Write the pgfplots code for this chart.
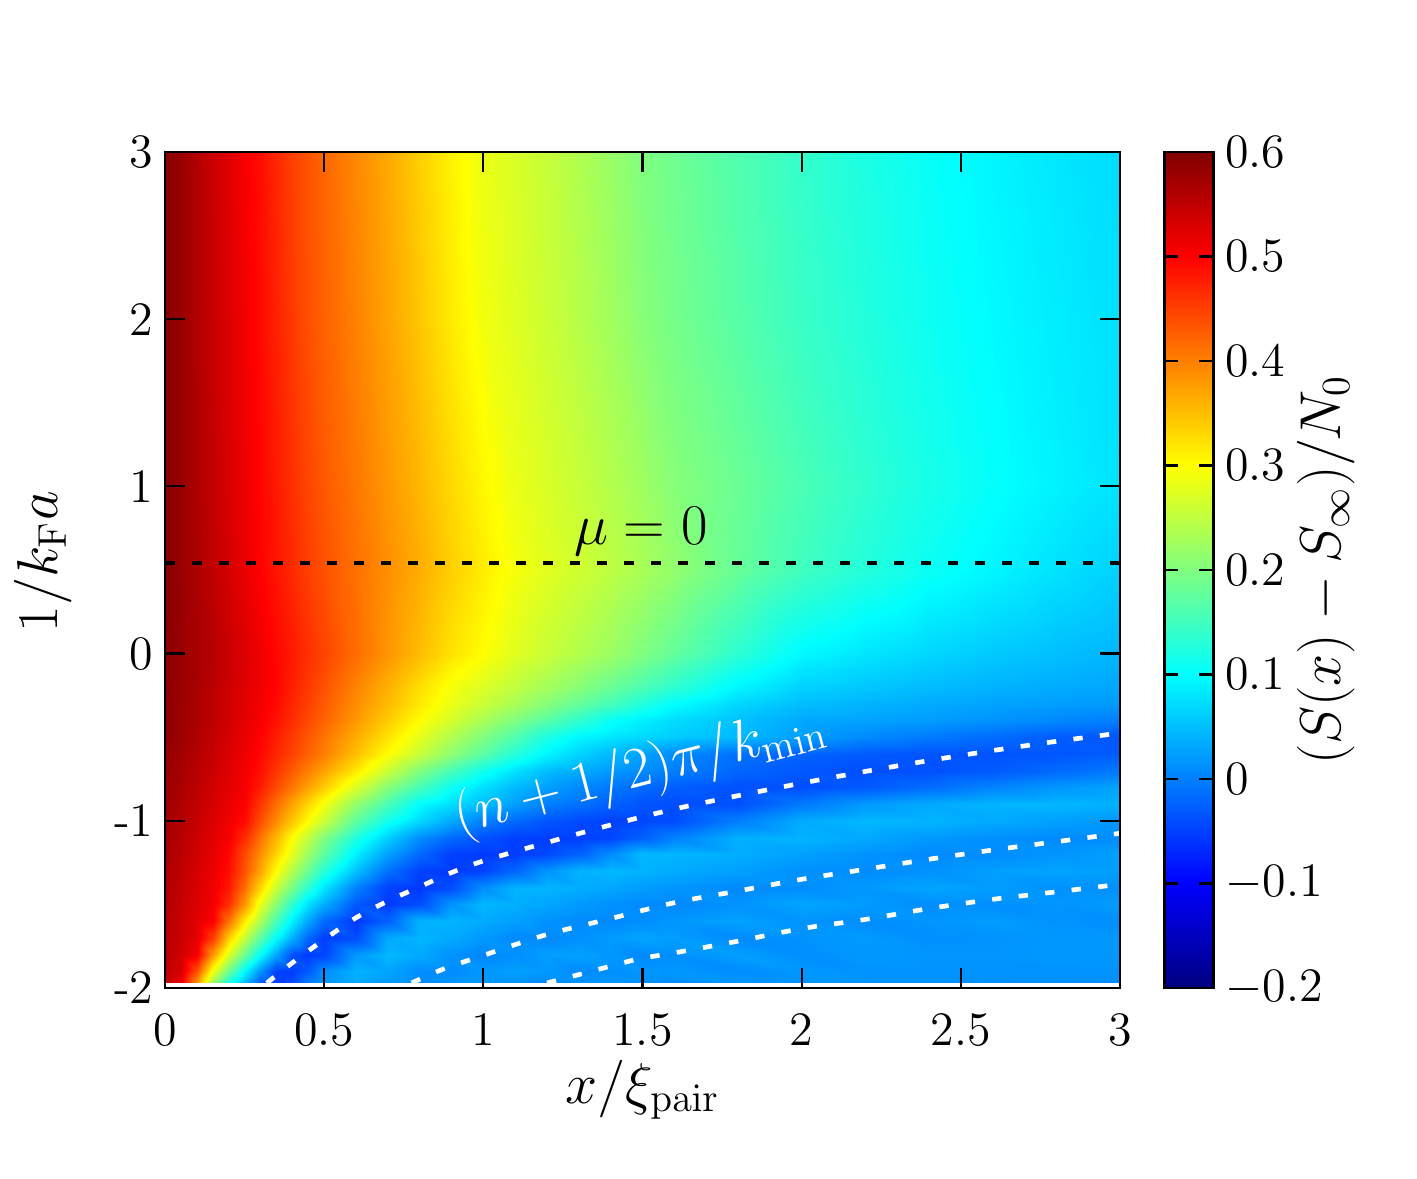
\documentclass[border=0pt]{standalone}
\usepackage{pgfplots}
\pgfplotsset{compat=1.18}
\pgfplotsset{
  colormap={jetmap}{rgb255(0pt)=(0,0,128); rgb255(1pt)=(0,0,255); rgb255(3pt)=(0,255,255);
    rgb255(5pt)=(255,255,0); rgb255(7pt)=(255,0,0); rgb255(8pt)=(128,0,0)},
}
\newcommand{\tickfont}{\Large}
\newcommand{\labfont}{\LARGE}
\begin{document}
\begin{tikzpicture}
\begin{axis}[
  name=main,
  scale only axis, width=286.5pt, height=250.8pt,
  xmin=0, xmax=3, ymin=-2, ymax=3,
  enlargelimits=false,
  xtick={0,0.5,1,1.5,2,2.5,3},
  ytick={-2,-1,0,1,2,3},
  yticklabels={-2,-1,0,1,2,3},
  tick align=inside, major tick length=6pt,
  tick style={black, line width=0.65pt},
  axis line style={line width=0.75pt},
  ticklabel style={font=\tickfont},
  xticklabel style={yshift=-4.4pt},
  xlabel={$x/\xi_{\mathrm{pair}}$},
  ylabel={$1/k_{\mathrm{F}}a$},
  label style={font=\labfont},
  xlabel style={at={(axis description cs:0.5,-0.1376)}, anchor=base},
  ylabel style={at={(axis description cs:-0.128,0.51)}, anchor=center},
  colormap name=jetmap,
  point meta min=-0.2, point meta max=0.6,
  colorbar,
  colorbar style={
    at={(parent axis.north east)}, anchor=north west, xshift=4.8pt,
    width=14.7pt,
    ytick={-0.2,-0.1,0,0.1,0.2,0.3,0.4,0.5,0.6},
    ytick pos=both, yticklabel pos=right,
    tick align=inside, major tick length=4.2pt,
    tick style={black, line width=0.65pt},
    axis line style={line width=0.75pt},
    yticklabel style={font=\tickfont, /pgf/number format/fixed, /pgf/number format/precision=1},
    ylabel={$(S(x)-S_\infty)/N_0$},
    ylabel style={font=\labfont, at={(axis description cs:3.3,0.5)}, anchor=center},
  },
  axis on top,
]
\addplot[surf, shader=interp, mesh/cols=29, mesh/rows=25, point meta=explicit] coordinates {
(0,-1.97)[0.553] (0.05,-1.97)[0.513] (0.1,-1.97)[0.38] (0.15,-1.97)[0.22] (0.2,-1.97)[0.117] (0.25,-1.97)[0.043] (0.3,-1.97)[-0.03] (0.35,-1.97)[-0.053] (0.4,-1.97)[-0.045] (0.45,-1.97)[0] (0.5,-1.97)[0.021] (0.6,-1.97)[0.035] (0.7,-1.97)[0.02] (0.8,-1.97)[0.008] (0.9,-1.97)[0.017] (1,-1.97)[0.023] (1.1,-1.97)[0.015] (1.2,-1.97)[0.006] (1.3,-1.97)[0.015] (1.4,-1.97)[0.02] (1.5,-1.97)[0.015] (1.6,-1.97)[0.01] (1.8,-1.97)[0.018] (2,-1.97)[0.017] (2.2,-1.97)[0.016] (2.4,-1.97)[0.015] (2.6,-1.97)[0.014] (2.8,-1.97)[0.013] (3,-1.97)[0.012]
(0,-1.9)[0.555] (0.05,-1.9)[0.53] (0.1,-1.9)[0.437] (0.15,-1.9)[0.289] (0.2,-1.9)[0.183] (0.25,-1.9)[0.095] (0.3,-1.9)[0.017] (0.35,-1.9)[-0.05] (0.4,-1.9)[-0.054] (0.45,-1.9)[-0.03] (0.5,-1.9)[0.012] (0.6,-1.9)[0.04] (0.7,-1.9)[0.03] (0.8,-1.9)[0.01] (0.9,-1.9)[0.009] (1,-1.9)[0.019] (1.1,-1.9)[0.026] (1.2,-1.9)[0.02] (1.3,-1.9)[0.008] (1.4,-1.9)[0.012] (1.5,-1.9)[0.018] (1.6,-1.9)[0.02] (1.8,-1.9)[0.01] (2,-1.9)[0.019] (2.2,-1.9)[0.015] (2.4,-1.9)[0.015] (2.6,-1.9)[0.015] (2.8,-1.9)[0.015] (3,-1.9)[0.015]
(0,-1.8)[0.557] (0.05,-1.8)[0.538] (0.1,-1.8)[0.505] (0.15,-1.8)[0.377] (0.2,-1.8)[0.269] (0.25,-1.8)[0.181] (0.3,-1.8)[0.1] (0.35,-1.8)[0.029] (0.4,-1.8)[-0.038] (0.45,-1.8)[-0.056] (0.5,-1.8)[-0.046] (0.6,-1.8)[0.02] (0.7,-1.8)[0.045] (0.8,-1.8)[0.033] (0.9,-1.8)[0.015] (1,-1.8)[0.005] (1.1,-1.8)[0.013] (1.2,-1.8)[0.024] (1.3,-1.8)[0.027] (1.4,-1.8)[0.02] (1.5,-1.8)[0.007] (1.6,-1.8)[0.012] (1.8,-1.8)[0.025] (2,-1.8)[0.012] (2.2,-1.8)[0.02] (2.4,-1.8)[0.017] (2.6,-1.8)[0.017] (2.8,-1.8)[0.02] (3,-1.8)[0.018]
(0,-1.7)[0.558] (0.05,-1.7)[0.54] (0.1,-1.7)[0.521] (0.15,-1.7)[0.45] (0.2,-1.7)[0.336] (0.25,-1.7)[0.25] (0.3,-1.7)[0.171] (0.35,-1.7)[0.1] (0.4,-1.7)[0.038] (0.45,-1.7)[-0.02] (0.5,-1.7)[-0.053] (0.6,-1.7)[-0.04] (0.7,-1.7)[0.033] (0.8,-1.7)[0.043] (0.9,-1.7)[0.033] (1,-1.7)[0.02] (1.1,-1.7)[0.008] (1.2,-1.7)[0.007] (1.3,-1.7)[0.013] (1.4,-1.7)[0.022] (1.5,-1.7)[0.029] (1.6,-1.7)[0.024] (1.8,-1.7)[0.009] (2,-1.7)[0.015] (2.2,-1.7)[0.022] (2.4,-1.7)[0.013] (2.6,-1.7)[0.015] (2.8,-1.7)[0.019] (3,-1.7)[0.018]
(0,-1.6)[0.56] (0.05,-1.6)[0.541] (0.1,-1.6)[0.523] (0.15,-1.6)[0.502] (0.2,-1.6)[0.408] (0.25,-1.6)[0.313] (0.3,-1.6)[0.235] (0.35,-1.6)[0.157] (0.4,-1.6)[0.088] (0.45,-1.6)[0.03] (0.5,-1.6)[-0.017] (0.6,-1.6)[-0.057] (0.7,-1.6)[-0.023] (0.8,-1.6)[0.04] (0.9,-1.6)[0.043] (1,-1.6)[0.034] (1.1,-1.6)[0.025] (1.2,-1.6)[0.015] (1.3,-1.6)[0.008] (1.4,-1.6)[0.007] (1.5,-1.6)[0.012] (1.6,-1.6)[0.019] (1.8,-1.6)[0.027] (2,-1.6)[0.016] (2.2,-1.6)[0.01] (2.4,-1.6)[0.017] (2.6,-1.6)[0.023] (2.8,-1.6)[0.015] (3,-1.6)[0.012]
(0,-1.5)[0.562] (0.05,-1.5)[0.545] (0.1,-1.5)[0.527] (0.15,-1.5)[0.509] (0.2,-1.5)[0.462] (0.25,-1.5)[0.38] (0.3,-1.5)[0.284] (0.35,-1.5)[0.208] (0.4,-1.5)[0.136] (0.45,-1.5)[0.077] (0.5,-1.5)[0.036] (0.6,-1.5)[-0.031] (0.7,-1.5)[-0.055] (0.8,-1.5)[-0.04] (0.9,-1.5)[0.015] (1,-1.5)[0.044] (1.1,-1.5)[0.038] (1.2,-1.5)[0.03] (1.3,-1.5)[0.022] (1.4,-1.5)[0.014] (1.5,-1.5)[0.008] (1.6,-1.5)[0.006] (1.8,-1.5)[0.015] (2,-1.5)[0.03] (2.2,-1.5)[0.022] (2.4,-1.5)[0.011] (2.6,-1.5)[0.012] (2.8,-1.5)[0.017] (3,-1.5)[0.022]
(0,-1.4)[0.565] (0.05,-1.4)[0.548] (0.1,-1.4)[0.53] (0.15,-1.4)[0.512] (0.2,-1.4)[0.48] (0.25,-1.4)[0.413] (0.3,-1.4)[0.333] (0.35,-1.4)[0.257] (0.4,-1.4)[0.193] (0.45,-1.4)[0.133] (0.5,-1.4)[0.079] (0.6,-1.4)[0] (0.7,-1.4)[-0.05] (0.8,-1.4)[-0.057] (0.9,-1.4)[-0.04] (1,-1.4)[0.011] (1.1,-1.4)[0.042] (1.2,-1.4)[0.042] (1.3,-1.4)[0.036] (1.4,-1.4)[0.03] (1.5,-1.4)[0.023] (1.6,-1.4)[0.017] (1.8,-1.4)[0.007] (2,-1.4)[0.011] (2.2,-1.4)[0.02] (2.4,-1.4)[0.03] (2.6,-1.4)[0.023] (2.8,-1.4)[0.014] (3,-1.4)[0.012]
(0,-1.3)[0.567] (0.05,-1.3)[0.55] (0.1,-1.3)[0.532] (0.15,-1.3)[0.514] (0.2,-1.3)[0.489] (0.25,-1.3)[0.433] (0.3,-1.3)[0.371] (0.35,-1.3)[0.3] (0.4,-1.3)[0.239] (0.45,-1.3)[0.183] (0.5,-1.3)[0.13] (0.6,-1.3)[0.05] (0.7,-1.3)[-0.012] (0.8,-1.3)[-0.05] (0.9,-1.3)[-0.056] (1,-1.3)[-0.047] (1.1,-1.3)[-0.02] (1.2,-1.3)[0.017] (1.3,-1.3)[0.041] (1.4,-1.3)[0.045] (1.5,-1.3)[0.04] (1.6,-1.3)[0.035] (1.8,-1.3)[0.025] (2,-1.3)[0.013] (2.2,-1.3)[0.009] (2.4,-1.3)[0.015] (2.6,-1.3)[0.025] (2.8,-1.3)[0.029] (3,-1.3)[0.025]
(0,-1.2)[0.57] (0.05,-1.2)[0.553] (0.1,-1.2)[0.537] (0.15,-1.2)[0.518] (0.2,-1.2)[0.495] (0.25,-1.2)[0.442] (0.3,-1.2)[0.389] (0.35,-1.2)[0.333] (0.4,-1.2)[0.278] (0.45,-1.2)[0.222] (0.5,-1.2)[0.173] (0.6,-1.2)[0.088] (0.7,-1.2)[0.025] (0.8,-1.2)[-0.019] (0.9,-1.2)[-0.05] (1,-1.2)[-0.055] (1.1,-1.2)[-0.053] (1.2,-1.2)[-0.044] (1.3,-1.2)[-0.023] (1.4,-1.2)[0.01] (1.5,-1.2)[0.045] (1.6,-1.2)[0.043] (1.8,-1.2)[0.037] (2,-1.2)[0.026] (2.2,-1.2)[0.016] (2.4,-1.2)[0.007] (2.6,-1.2)[0.01] (2.8,-1.2)[0.017] (3,-1.2)[0.025]
(0,-1.1)[0.572] (0.05,-1.1)[0.556] (0.1,-1.1)[0.54] (0.15,-1.1)[0.523] (0.2,-1.1)[0.505] (0.25,-1.1)[0.465] (0.3,-1.1)[0.411] (0.35,-1.1)[0.356] (0.4,-1.1)[0.3] (0.45,-1.1)[0.25] (0.5,-1.1)[0.2] (0.6,-1.1)[0.123] (0.7,-1.1)[0.061] (0.8,-1.1)[0.01] (0.9,-1.1)[-0.018] (1,-1.1)[-0.037] (1.1,-1.1)[-0.05] (1.2,-1.1)[-0.053] (1.3,-1.1)[-0.052] (1.4,-1.1)[-0.045] (1.5,-1.1)[-0.025] (1.6,-1.1)[0.002] (1.8,-1.1)[0.038] (2,-1.1)[0.041] (2.2,-1.1)[0.032] (2.4,-1.1)[0.02] (2.6,-1.1)[0.012] (2.8,-1.1)[0.008] (3,-1.1)[0.01]
(0,-1)[0.575] (0.05,-1)[0.56] (0.1,-1)[0.545] (0.15,-1)[0.528] (0.2,-1)[0.512] (0.25,-1)[0.49] (0.3,-1)[0.44] (0.35,-1)[0.391] (0.4,-1)[0.345] (0.45,-1)[0.3] (0.5,-1)[0.258] (0.6,-1)[0.174] (0.7,-1)[0.113] (0.8,-1)[0.069] (0.9,-1)[0.033] (1,-1)[0] (1.1,-1)[-0.018] (1.2,-1)[-0.033] (1.3,-1)[-0.042] (1.4,-1)[-0.05] (1.5,-1)[-0.045] (1.6,-1)[-0.04] (1.8,-1)[-0.001] (2,-1)[0.035] (2.2,-1)[0.044] (2.4,-1)[0.042] (2.6,-1)[0.034] (2.8,-1)[0.026] (3,-1)[0.018]
(0,-0.9)[0.578] (0.05,-0.9)[0.563] (0.1,-0.9)[0.548] (0.15,-0.9)[0.532] (0.2,-0.9)[0.516] (0.25,-0.9)[0.501] (0.3,-0.9)[0.459] (0.35,-0.9)[0.414] (0.4,-0.9)[0.372] (0.45,-0.9)[0.332] (0.5,-0.9)[0.292] (0.6,-0.9)[0.215] (0.7,-0.9)[0.156] (0.8,-0.9)[0.1] (0.9,-0.9)[0.074] (1,-0.9)[0.048] (1.1,-0.9)[0.024] (1.2,-0.9)[0] (1.3,-0.9)[-0.012] (1.4,-0.9)[-0.024] (1.5,-0.9)[-0.034] (1.6,-0.9)[-0.041] (1.8,-0.9)[-0.038] (2,-0.9)[-0.005] (2.2,-0.9)[0.02] (2.4,-0.9)[0.034] (2.6,-0.9)[0.042] (2.8,-0.9)[0.043] (3,-0.9)[0.04]
(0,-0.8)[0.58] (0.05,-0.8)[0.566] (0.1,-0.8)[0.552] (0.15,-0.8)[0.536] (0.2,-0.8)[0.52] (0.25,-0.8)[0.506] (0.3,-0.8)[0.479] (0.35,-0.8)[0.443] (0.4,-0.8)[0.407] (0.45,-0.8)[0.373] (0.5,-0.8)[0.34] (0.6,-0.8)[0.271] (0.7,-0.8)[0.206] (0.8,-0.8)[0.155] (0.9,-0.8)[0.109] (1,-0.8)[0.075] (1.1,-0.8)[0.046] (1.2,-0.8)[0.025] (1.3,-0.8)[0.008] (1.4,-0.8)[-0.006] (1.5,-0.8)[-0.017] (1.6,-0.8)[-0.026] (1.8,-0.8)[-0.037] (2,-0.8)[-0.04] (2.2,-0.8)[-0.031] (2.4,-0.8)[-0.015] (2.6,-0.8)[0.003] (2.8,-0.8)[0.018] (3,-0.8)[0.028]
(0,-0.7)[0.583] (0.05,-0.7)[0.569] (0.1,-0.7)[0.555] (0.15,-0.7)[0.54] (0.2,-0.7)[0.525] (0.25,-0.7)[0.509] (0.3,-0.7)[0.488] (0.35,-0.7)[0.459] (0.4,-0.7)[0.429] (0.45,-0.7)[0.4] (0.5,-0.7)[0.372] (0.6,-0.7)[0.317] (0.7,-0.7)[0.256] (0.8,-0.7)[0.2] (0.9,-0.7)[0.155] (1,-0.7)[0.112] (1.1,-0.7)[0.077] (1.2,-0.7)[0.047] (1.3,-0.7)[0.034] (1.4,-0.7)[0.02] (1.5,-0.7)[0.01] (1.6,-0.7)[0] (1.8,-0.7)[-0.02] (2,-0.7)[-0.032] (2.2,-0.7)[-0.039] (2.4,-0.7)[-0.037] (2.6,-0.7)[-0.03] (2.8,-0.7)[-0.017] (3,-0.7)[-0.005]
(0,-0.6)[0.585] (0.05,-0.6)[0.573] (0.1,-0.6)[0.56] (0.15,-0.6)[0.544] (0.2,-0.6)[0.528] (0.25,-0.6)[0.512] (0.3,-0.6)[0.495] (0.35,-0.6)[0.471] (0.4,-0.6)[0.448] (0.45,-0.6)[0.424] (0.5,-0.6)[0.4] (0.6,-0.6)[0.35] (0.7,-0.6)[0.3] (0.8,-0.6)[0.255] (0.9,-0.6)[0.212] (1,-0.6)[0.171] (1.1,-0.6)[0.129] (1.2,-0.6)[0.092] (1.3,-0.6)[0.065] (1.4,-0.6)[0.045] (1.5,-0.6)[0.027] (1.6,-0.6)[0.01] (1.8,-0.6)[-0.012] (2,-0.6)[-0.022] (2.2,-0.6)[-0.03] (2.4,-0.6)[-0.035] (2.6,-0.6)[-0.036] (2.8,-0.6)[-0.033] (3,-0.6)[-0.028]
(0,-0.5)[0.59] (0.05,-0.5)[0.577] (0.1,-0.5)[0.563] (0.15,-0.5)[0.548] (0.2,-0.5)[0.532] (0.25,-0.5)[0.516] (0.3,-0.5)[0.5] (0.35,-0.5)[0.477] (0.4,-0.5)[0.455] (0.45,-0.5)[0.432] (0.5,-0.5)[0.409] (0.6,-0.5)[0.365] (0.7,-0.5)[0.322] (0.8,-0.5)[0.279] (0.9,-0.5)[0.238] (1,-0.5)[0.2] (1.1,-0.5)[0.162] (1.2,-0.5)[0.121] (1.3,-0.5)[0.093] (1.4,-0.5)[0.08] (1.5,-0.5)[0.07] (1.6,-0.5)[0.06] (1.8,-0.5)[0.045] (2,-0.5)[0.025] (2.2,-0.5)[0.008] (2.4,-0.5)[-0.004] (2.6,-0.5)[-0.016] (2.8,-0.5)[-0.028] (3,-0.5)[-0.034]
(0,-0.4)[0.59] (0.05,-0.4)[0.578] (0.1,-0.4)[0.565] (0.15,-0.4)[0.55] (0.2,-0.4)[0.535] (0.25,-0.4)[0.52] (0.3,-0.4)[0.506] (0.35,-0.4)[0.487] (0.4,-0.4)[0.465] (0.45,-0.4)[0.443] (0.5,-0.4)[0.422] (0.6,-0.4)[0.38] (0.7,-0.4)[0.34] (0.8,-0.4)[0.3] (0.9,-0.4)[0.267] (1,-0.4)[0.233] (1.1,-0.4)[0.2] (1.2,-0.4)[0.169] (1.3,-0.4)[0.138] (1.4,-0.4)[0.106] (1.5,-0.4)[0.088] (1.6,-0.4)[0.073] (1.8,-0.4)[0.052] (2,-0.4)[0.033] (2.2,-0.4)[0.028] (2.4,-0.4)[0.023] (2.6,-0.4)[0.016] (2.8,-0.4)[0.008] (3,-0.4)[0]
(0,-0.3)[0.59] (0.05,-0.3)[0.578] (0.1,-0.3)[0.566] (0.15,-0.3)[0.551] (0.2,-0.3)[0.536] (0.25,-0.3)[0.522] (0.3,-0.3)[0.508] (0.35,-0.3)[0.492] (0.4,-0.3)[0.471] (0.45,-0.3)[0.45] (0.5,-0.3)[0.429] (0.6,-0.3)[0.389] (0.7,-0.3)[0.353] (0.8,-0.3)[0.316] (0.9,-0.3)[0.285] (1,-0.3)[0.258] (1.1,-0.3)[0.232] (1.2,-0.3)[0.205] (1.3,-0.3)[0.179] (1.4,-0.3)[0.153] (1.5,-0.3)[0.126] (1.6,-0.3)[0.1] (1.8,-0.3)[0.068] (2,-0.3)[0.048] (2.2,-0.3)[0.041] (2.4,-0.3)[0.034] (2.6,-0.3)[0.028] (2.8,-0.3)[0.024] (3,-0.3)[0.02]
(0,-0.2)[0.59] (0.05,-0.2)[0.579] (0.1,-0.2)[0.567] (0.15,-0.2)[0.553] (0.2,-0.2)[0.538] (0.25,-0.2)[0.524] (0.3,-0.2)[0.511] (0.35,-0.2)[0.496] (0.4,-0.2)[0.476] (0.45,-0.2)[0.456] (0.5,-0.2)[0.436] (0.6,-0.2)[0.396] (0.7,-0.2)[0.361] (0.8,-0.2)[0.325] (0.9,-0.2)[0.293] (1,-0.2)[0.272] (1.1,-0.2)[0.25] (1.2,-0.2)[0.228] (1.3,-0.2)[0.206] (1.4,-0.2)[0.183] (1.5,-0.2)[0.16] (1.6,-0.2)[0.136] (1.8,-0.2)[0.093] (2,-0.2)[0.065] (2.2,-0.2)[0.056] (2.4,-0.2)[0.047] (2.6,-0.2)[0.04] (2.8,-0.2)[0.035] (3,-0.2)[0.03]
(0,-0.1)[0.59] (0.05,-0.1)[0.58] (0.1,-0.1)[0.568] (0.15,-0.1)[0.556] (0.2,-0.1)[0.539] (0.25,-0.1)[0.526] (0.3,-0.1)[0.512] (0.35,-0.1)[0.496] (0.4,-0.1)[0.478] (0.45,-0.1)[0.46] (0.5,-0.1)[0.442] (0.6,-0.1)[0.406] (0.7,-0.1)[0.372] (0.8,-0.1)[0.339] (0.9,-0.1)[0.308] (1,-0.1)[0.286] (1.1,-0.1)[0.263] (1.2,-0.1)[0.243] (1.3,-0.1)[0.223] (1.4,-0.1)[0.203] (1.5,-0.1)[0.18] (1.6,-0.1)[0.157] (1.8,-0.1)[0.114] (2,-0.1)[0.08] (2.2,-0.1)[0.068] (2.4,-0.1)[0.058] (2.6,-0.1)[0.049] (2.8,-0.1)[0.043] (3,-0.1)[0.036]
(0,0)[0.59] (0.05,0)[0.58] (0.1,0)[0.568] (0.15,0)[0.558] (0.2,0)[0.54] (0.25,0)[0.527] (0.3,0)[0.512] (0.35,0)[0.495] (0.4,0)[0.48] (0.45,0)[0.463] (0.5,0)[0.447] (0.6,0)[0.415] (0.7,0)[0.383] (0.8,0)[0.352] (0.9,0)[0.322] (1,0)[0.3] (1.1,0)[0.276] (1.2,0)[0.257] (1.3,0)[0.24] (1.4,0)[0.222] (1.5,0)[0.2] (1.6,0)[0.178] (1.8,0)[0.135] (2,0)[0.095] (2.2,0)[0.08] (2.4,0)[0.068] (2.6,0)[0.058] (2.8,0)[0.05] (3,0)[0.042]
(0,0.5)[0.595] (0.05,0.5)[0.581] (0.1,0.5)[0.565] (0.15,0.5)[0.549] (0.2,0.5)[0.533] (0.25,0.5)[0.516] (0.3,0.5)[0.5] (0.35,0.5)[0.484] (0.4,0.5)[0.468] (0.45,0.5)[0.451] (0.5,0.5)[0.437] (0.6,0.5)[0.412] (0.7,0.5)[0.388] (0.8,0.5)[0.364] (0.9,0.5)[0.338] (1,0.5)[0.314] (1.1,0.5)[0.292] (1.2,0.5)[0.276] (1.3,0.5)[0.262] (1.4,0.5)[0.248] (1.5,0.5)[0.233] (1.6,0.5)[0.215] (1.8,0.5)[0.18] (2,0.5)[0.15] (2.2,0.5)[0.128] (2.4,0.5)[0.108] (2.6,0.5)[0.093] (2.8,0.5)[0.078] (3,0.5)[0.064]
(0,1)[0.595] (0.05,1)[0.581] (0.1,1)[0.564] (0.15,1)[0.547] (0.2,1)[0.53] (0.25,1)[0.513] (0.3,1)[0.497] (0.35,1)[0.48] (0.4,1)[0.463] (0.45,1)[0.446] (0.5,1)[0.431] (0.6,1)[0.406] (0.7,1)[0.381] (0.8,1)[0.356] (0.9,1)[0.33] (1,1)[0.306] (1.1,1)[0.284] (1.2,1)[0.27] (1.3,1)[0.256] (1.4,1)[0.241] (1.5,1)[0.225] (1.6,1)[0.206] (1.8,1)[0.183] (2,1)[0.158] (2.2,1)[0.137] (2.4,1)[0.118] (2.6,1)[0.103] (2.8,1)[0.09] (3,1)[0.078]
(0,2)[0.595] (0.05,2)[0.58] (0.1,2)[0.562] (0.15,2)[0.543] (0.2,2)[0.527] (0.25,2)[0.509] (0.3,2)[0.493] (0.35,2)[0.474] (0.4,2)[0.455] (0.45,2)[0.438] (0.5,2)[0.424] (0.6,2)[0.398] (0.7,2)[0.372] (0.8,2)[0.344] (0.9,2)[0.316] (1,2)[0.29] (1.1,2)[0.274] (1.2,2)[0.259] (1.3,2)[0.243] (1.4,2)[0.226] (1.5,2)[0.207] (1.6,2)[0.192] (1.8,2)[0.168] (2,2)[0.145] (2.2,2)[0.127] (2.4,2)[0.11] (2.6,2)[0.097] (2.8,2)[0.086] (3,2)[0.076]
(0,3)[0.595] (0.05,3)[0.58] (0.1,3)[0.56] (0.15,3)[0.54] (0.2,3)[0.524] (0.25,3)[0.505] (0.3,3)[0.49] (0.35,3)[0.47] (0.4,3)[0.45] (0.45,3)[0.435] (0.5,3)[0.42] (0.6,3)[0.393] (0.7,3)[0.367] (0.8,3)[0.337] (0.9,3)[0.31] (1,3)[0.285] (1.1,3)[0.27] (1.2,3)[0.255] (1.3,3)[0.238] (1.4,3)[0.22] (1.5,3)[0.2] (1.6,3)[0.187] (1.8,3)[0.163] (2,3)[0.14] (2.2,3)[0.122] (2.4,3)[0.105] (2.6,3)[0.093] (2.8,3)[0.082] (3,3)[0.072]
};
% mu = 0 line
\addplot[black, line width=1.2pt, dash pattern=on 3pt off 5.1pt] coordinates {(0,0.54) (3,0.54)};
% (n+1/2) pi / k_min curves
\addplot[white, line width=1.4pt, dash pattern=on 2.8pt off 5.2pt, smooth] coordinates {
(0.32,-1.97) (0.41,-1.835) (0.5,-1.71) (0.6,-1.58) (0.7,-1.48) (0.8,-1.395) (0.9,-1.31) (1,-1.24) (1.2,-1.13) (1.4,-1.025) (1.6,-0.93) (1.8,-0.85) (2,-0.775) (2.2,-0.705) (2.4,-0.64) (2.6,-0.58) (2.8,-0.525) (3,-0.475)};
\addplot[white, line width=1.4pt, dash pattern=on 2.8pt off 5.2pt, smooth] coordinates {
(0.775,-1.97) (0.87,-1.89) (1,-1.805) (1.2,-1.68) (1.4,-1.585) (1.6,-1.49) (1.8,-1.42) (2,-1.35) (2.2,-1.29) (2.4,-1.23) (2.6,-1.175) (2.8,-1.125) (3,-1.075)};
\addplot[white, line width=1.4pt, dash pattern=on 2.8pt off 5.2pt, smooth] coordinates {
(1.2,-1.97) (1.32,-1.91) (1.48,-1.83) (1.6,-1.79) (1.8,-1.72) (2,-1.645) (2.2,-1.59) (2.4,-1.525) (2.6,-1.47) (2.8,-1.425) (3,-1.38)};
\node[font=\labfont, anchor=base] at (axis cs:1.495,0.65) {$\mu=0$};
\node[font=\labfont, anchor=base, rotate=14.5, text=white] at (axis cs:1.505,-0.792) {$(n+1/2)\pi/k_{\min}$};
\end{axis}
\path ([xshift=-49.5pt,yshift=-57.3pt]main.south west) rectangle ([xshift=89.1pt,yshift=45.6pt]main.north east);
\end{tikzpicture}
\end{document}
